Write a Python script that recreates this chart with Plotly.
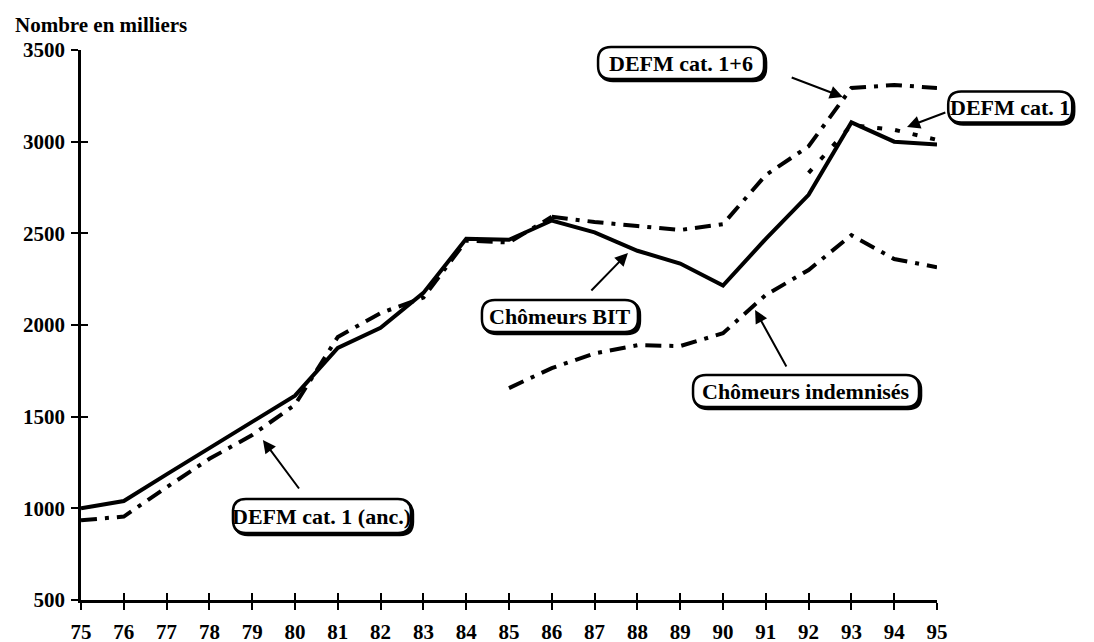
import plotly.graph_objects as go

# ---- data (in thousands) ----
years = list(range(75, 96))
bit = [1000, 1040, 1185, 1330, 1470, 1615, 1875, 1985, 2175, 2470, 2465,
       2570, 2505, 2405, 2335, 2215, 2470, 2710, 3105, 3000, 2985]

anc_years = list(range(75, 87))
defm_anc = [935, 955, 1115, 1270, 1400, 1565, 1935, 2065, 2150, 2460, 2450, 2590]

cat16_years = list(range(86, 96))
defm_16 = [2590, 2562, 2540, 2518, 2550, 2818, 2975, 3293, 3309, 3293]

cat1_years = list(range(92, 96))
defm_1 = [2830, 3090, 3065, 3010]

ind_years = list(range(85, 96))
indemn = [1656, 1765, 1845, 1890, 1885, 1955, 2164, 2300, 2490, 2360, 2315]

xtick_vals = years
xtick_text = [str(y) for y in years]
ytick_vals = [500, 1000, 1500, 2000, 2500, 3000, 3500]

FONT = "Liberation Serif"
DASHDOT = "16px,8px,4px,8px"

fig = go.Figure()
fig.add_trace(go.Scatter(x=anc_years, y=defm_anc, mode="lines",
                         line=dict(color="black", width=4, dash=DASHDOT),
                         name="DEFM cat. 1 (anc.)", hoverinfo="skip"))
fig.add_trace(go.Scatter(x=cat16_years, y=defm_16, mode="lines",
                         line=dict(color="black", width=4, dash=DASHDOT),
                         name="DEFM cat. 1+6", hoverinfo="skip"))
fig.add_trace(go.Scatter(x=ind_years, y=indemn, mode="lines",
                         line=dict(color="black", width=4, dash=DASHDOT),
                         name="Chômeurs indemnisés", hoverinfo="skip"))
fig.add_trace(go.Scatter(x=cat1_years, y=defm_1, mode="lines",
                         line=dict(color="black", width=4, dash="5px,13px"),
                         name="DEFM cat. 1", hoverinfo="skip"))
fig.add_trace(go.Scatter(x=years, y=bit, mode="lines",
                         line=dict(color="black", width=4),
                         name="Chômeurs BIT", hoverinfo="skip"))
# empty trace to bind overlay axes (for crossing ticks)
fig.add_trace(go.Scatter(x=[], y=[], xaxis="x2", yaxis="y2", showlegend=False))

tf = dict(family=FONT, size=21, color="black", weight="bold")

fig.update_layout(
    width=1086, height=642,
    margin=dict(l=73, r=157, t=42, b=50),
    paper_bgcolor="white", plot_bgcolor="white",
    showlegend=False,
    xaxis=dict(range=[75, 95], tickvals=xtick_vals, ticktext=xtick_text,
               ticks="outside", ticklen=7, tickwidth=2, tickcolor="black",
               showline=True, linecolor="black", linewidth=2.5,
               showgrid=False, zeroline=False, tickfont=tf,
               ticklabelstandoff=4, automargin=False),
    yaxis=dict(range=[500, 3500], tickvals=ytick_vals,
               ticks="outside", ticklen=7, tickwidth=2, tickcolor="black",
               showline=True, linecolor="black", linewidth=2.5,
               showgrid=False, zeroline=False, tickfont=tf,
               ticklabelstandoff=2, automargin=False),
    xaxis2=dict(range=[75, 95], tickvals=xtick_vals, overlaying="x", anchor="y2",
                ticks="inside", ticklen=7, tickwidth=2, tickcolor="black",
                showticklabels=False, showline=False, showgrid=False,
                zeroline=False, automargin=False),
    yaxis2=dict(range=[500, 3500], tickvals=ytick_vals, overlaying="y", anchor="x2",
                ticks="inside", ticklen=7, tickwidth=2, tickcolor="black",
                showticklabels=False, showline=False, showgrid=False,
                zeroline=False, automargin=False),
)

anns = []
anns.append(dict(xref="paper", yref="paper", x=-0.08, y=1.045, xanchor="left",
                 yanchor="middle", showarrow=False, text="<b>Nombre en milliers</b>",
                 font=dict(family=FONT, size=21, color="black")))


def paper_x(v):
    return (v - 75) / 20.0


def paper_y(v):
    return (v - 500) / 3000.0


def rounded_box(w, h, r, dx=0.0, dy=0.0):
    hw, hh = w / 2.0, h / 2.0
    pts = [
        "M %g,%g" % (-hw + r + dx, -hh + dy),
        "L %g,%g" % (hw - r + dx, -hh + dy),
        "Q %g,%g %g,%g" % (hw + dx, -hh + dy, hw + dx, -hh + r + dy),
        "L %g,%g" % (hw + dx, hh - r + dy),
        "Q %g,%g %g,%g" % (hw + dx, hh + dy, hw - r + dx, hh + dy),
        "L %g,%g" % (-hw + r + dx, hh + dy),
        "Q %g,%g %g,%g" % (-hw + dx, hh + dy, -hw + dx, hh - r + dy),
        "L %g,%g" % (-hw + dx, -hh + r + dy),
        "Q %g,%g %g,%g" % (-hw + dx, -hh + dy, -hw + r + dx, -hh + dy),
        "Z",
    ]
    return " ".join(pts)


# label boxes: (text, x, y in data units, box width px, box height px)
labels = [
    ("DEFM cat. 1+6", 89.02, 3429, 166, 32),
    ("DEFM cat. 1", 96.71, 3189, 124, 31),
    ("Chômeurs BIT", 86.19, 2049, 156, 32),
    ("Chômeurs indemnisés", 91.94, 1640, 226, 32),
    ("DEFM cat. 1 (anc.)", 80.63, 958, 178, 34),
]
shapes = []
for txt, x, y, w, h in labels:
    px, py = paper_x(x), paper_y(y)
    # shadow
    shapes.append(dict(type="path", xref="paper", yref="paper",
                       xsizemode="pixel", ysizemode="pixel",
                       xanchor=px, yanchor=py, layer="above",
                       path=rounded_box(w, h, 13, 2, -2),
                       fillcolor="black", line=dict(color="black", width=2.5)))
    shapes.append(dict(type="path", xref="paper", yref="paper",
                       xsizemode="pixel", ysizemode="pixel",
                       xanchor=px, yanchor=py, layer="above",
                       path=rounded_box(w, h, 13),
                       fillcolor="white", line=dict(color="black", width=2.5)))
    anns.append(dict(x=px, y=py, xref="paper", yref="paper",
                     xanchor="center", yanchor="middle",
                     showarrow=False, text="<b>%s</b>" % txt,
                     font=dict(family=FONT, size=22, color="black")))

# arrows: head (x, y), tail (ax, ay) in data units
arrows = [
    (92.80, 3244, 91.57, 3353),
    (94.30, 3080, 95.23, 3162),
    (87.78, 2393, 86.89, 2180),
    (90.75, 2082, 91.50, 1766),
    (79.25, 1373, 80.12, 1100),
]
for x, y, ax, ay in arrows:
    anns.append(dict(x=x, y=y, xref="x", yref="y", ax=ax, ay=ay,
                     axref="x", ayref="y", text="", showarrow=True,
                     arrowhead=2, arrowsize=1.3, arrowwidth=2,
                     arrowcolor="black"))

fig.update_layout(annotations=anns, shapes=shapes)

fig.write_html("out.html")
